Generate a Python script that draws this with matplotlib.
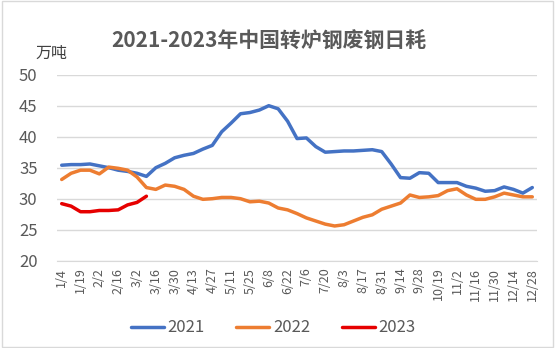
import matplotlib
matplotlib.use("Agg")
import matplotlib.pyplot as plt
from matplotlib.patches import Rectangle

plt.rcParams['font.family'] = ['Noto Sans CJK SC', 'DejaVu Sans']

# weekly categories (labels shown every other week)
dates = ["1/4", "1/12", "1/19", "1/26", "2/2", "2/9", "2/16", "2/23", "3/2", "3/9",
         "3/16", "3/23", "3/30", "4/6", "4/13", "4/20", "4/27", "5/4", "5/11", "5/18",
         "5/25", "6/1", "6/8", "6/15", "6/22", "6/29", "7/6", "7/13", "7/20", "7/27",
         "8/3", "8/10", "8/17", "8/24", "8/31", "9/7", "9/14", "9/21", "9/28", "10/12",
         "10/19", "10/26", "11/2", "11/9", "11/16", "11/23", "11/30", "12/7", "12/14",
         "12/21", "12/28"]

y2021 = [35.4, 35.5, 35.5, 35.6, 35.3, 35.0, 34.6, 34.4, 34.1, 33.6,
         35.0, 35.7, 36.6, 37.0, 37.3, 38.0, 38.6, 40.8, 42.2, 43.7,
         43.9, 44.3, 45.0, 44.5, 42.5, 39.7, 39.8, 38.4, 37.5, 37.6,
         37.7, 37.7, 37.8, 37.9, 37.6, 35.6, 33.4, 33.3, 34.2, 34.1,
         32.6, 32.6, 32.6, 32.0, 31.7, 31.2, 31.3, 31.9, 31.5, 30.9, 31.8]

y2022 = [33.1, 34.1, 34.6, 34.6, 34.0, 35.1, 34.9, 34.6, 33.5, 31.8,
         31.5, 32.2, 32.0, 31.5, 30.4, 29.9, 30.0, 30.2, 30.2, 30.0,
         29.5, 29.6, 29.3, 28.5, 28.2, 27.6, 26.9, 26.4, 25.9, 25.6,
         25.8, 26.4, 27.0, 27.4, 28.3, 28.8, 29.3, 30.6, 30.2, 30.3,
         30.5, 31.3, 31.6, 30.6, 29.9, 29.9, 30.3, 30.9, 30.6, 30.3, 30.3]

y2023 = [29.2, 28.8, 27.9, 27.9, 28.1, 28.1, 28.2, 29.0, 29.4, 30.4]

series = [("2021", y2021, "#4472C4"), ("2022", y2022, "#ED7D31"), ("2023", y2023, "#E60000")]

fig = plt.figure(figsize=(5.55, 3.48), dpi=100)
ax = fig.add_axes([57 / 555, 1 - 260.7 / 348, 480 / 555, 186 / 348])

for label, vals, col in series:
    ax.plot(range(len(vals)), vals, color=col, lw=2.5, label=label,
            solid_joinstyle="round", solid_capstyle="round")

ax.set_xlim(-0.5, len(dates) - 0.5)
ax.set_ylim(20, 50)
ax.set_yticks(range(20, 51, 5))
ax.set_xticks(range(0, len(dates), 2))
ax.set_xticklabels(dates[::2], rotation=90, fontsize=9, color="#595959")
ax.tick_params(axis="y", labelsize=12, labelcolor="#595959", length=0, pad=14)
ax.tick_params(axis="x", length=0, pad=5)
ax.grid(axis="y", color="#D9D9D9", lw=1)
ax.set_axisbelow(True)
for s in ("top", "right", "left"):
    ax.spines[s].set_visible(False)
ax.spines["bottom"].set_color("#D9D9D9")

fig.text(269 / 555, 1 - 41 / 348, "2021-2023年中国转炉钢废钢日耗", ha="center", va="center",
         fontsize=15, fontweight="bold", color="#595959")
fig.text(51 / 555, 1 - 53 / 348, "万吨", ha="center", va="center", fontsize=11.5, color="#404040")

fig.legend(loc="center", bbox_to_anchor=(273 / 555, 1 - 328 / 348), ncol=3, frameon=False,
           fontsize=12, handlelength=2.0, handletextpad=0.2, columnspacing=1.9,
           labelcolor="#595959")

fig.patches.append(Rectangle((0.003, 0.003), 0.993, 0.993, transform=fig.transFigure,
                             fill=False, edgecolor="#D9D9D9", lw=1))

fig.savefig("out.png", dpi=100)
